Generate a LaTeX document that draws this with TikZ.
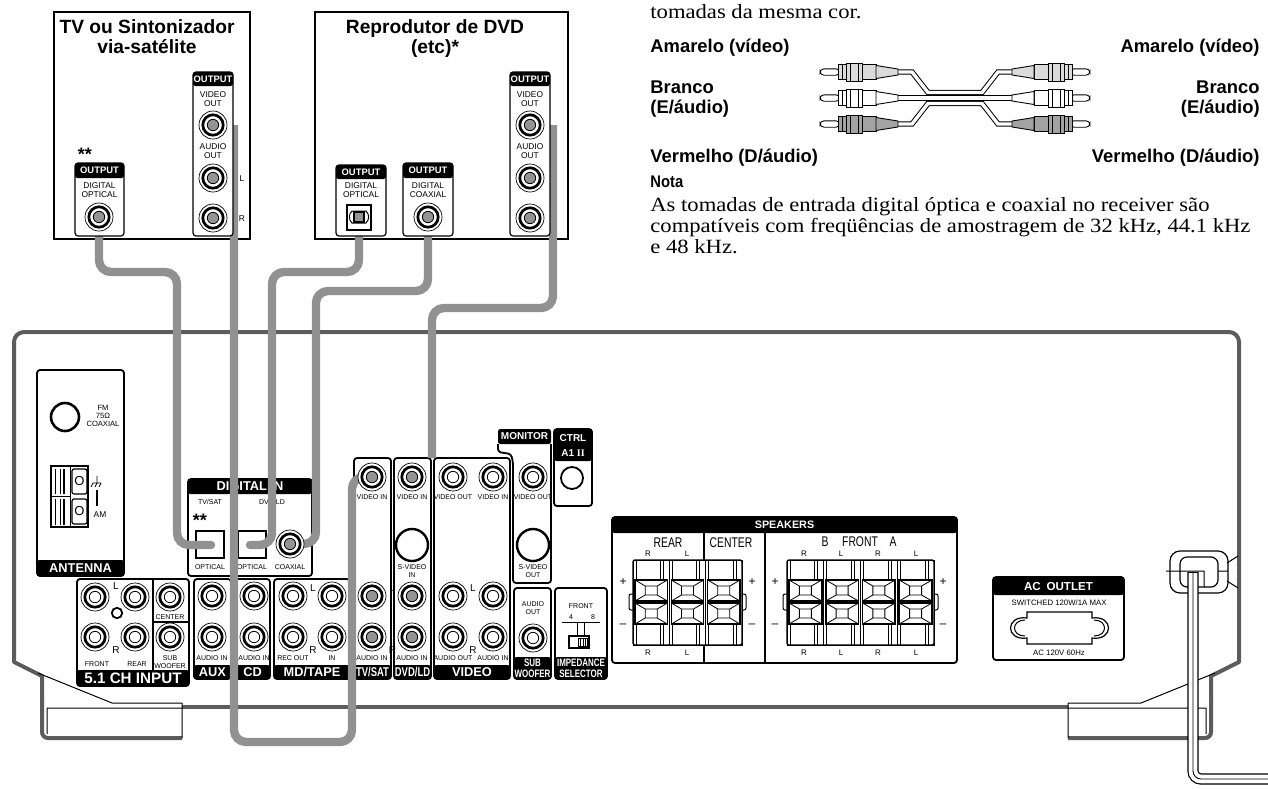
\documentclass[tikz,border=0pt]{standalone}
\usepackage{fontspec}
\setmainfont{Liberation Serif}
\setsansfont{Liberation Sans}
\newfontfamily\hdf{Liberation Sans}
\newfontfamily\cnd[FakeStretch=0.88]{Liberation Sans}
\newfontfamily\cndx[FakeStretch=0.74]{Liberation Sans}
\newfontfamily\wserif[FakeStretch=1.12]{Liberation Serif}
\definecolor{cablegray}{gray}{0.57}
\definecolor{bodygray}{gray}{0.36}
\definecolor{jackgray}{gray}{0.58}
\definecolor{plugA}{gray}{0.86}
\definecolor{plugC}{gray}{0.64}

\newcommand\rcajack[3]{%
  \coordinate (#1) at (#2);
  \draw[line width=0.35pt,fill=white] (#1) circle[radius=7pt];
  \draw[line width=1.35pt] (#1) circle[radius=5.1pt];
  \draw[line width=0.4pt,fill=#3] (#1) circle[radius=2.85pt];}

\newcommand\lbar[7][]{%
  \fill[rounded corners=1.2pt] (#3,#4) rectangle (#5,#6);
  \node[lbl,#1] (#2) at ({(#3+#5)/2},{(#4+#6)/2}) {#7};}

\newcommand\spksq[4]{%
  \pgfmathsetmacro\sqA{#1+#3/2-6}\pgfmathsetmacro\sqB{#2+#4/2-4.5}%
  \pgfmathsetmacro\sqC{#1+#3/2+6}\pgfmathsetmacro\sqD{#2+#4/2+4.5}%
  \pgfmathsetmacro\sqE{#1+#3}\pgfmathsetmacro\sqF{#2+#4}%
  \draw[line width=0.8pt] (#1,#2) rectangle (\sqE,\sqF);
  \draw[line width=0.4pt] (\sqA,\sqB) rectangle (\sqC,\sqD)
    (#1,#2) -- (\sqA,\sqB) (\sqE,#2) -- (\sqC,\sqB)
    (\sqE,\sqF) -- (\sqC,\sqD) (#1,\sqF) -- (\sqA,\sqD);}

\newcommand\spkcol[2]{%
  \pgfmathsetmacro\spR{#1+#2}\pgfmathsetmacro\spL{#1+#2-9}%
  \pgfmathsetmacro\spM{#1+#2-6}\pgfmathsetmacro\spK{#1+3}%
  \pgfmathsetmacro\spX{#1+2}\pgfmathsetmacro\spW{#2-4}%
  \draw[line width=0.5pt,fill=white] (#1,560) rectangle (\spR,645);
  \draw[line width=0.35pt] (\spK,560)--(\spK,579) (\spL,560)--(\spL,579) (\spM,560)--(\spM,579)
     (\spK,625)--(\spK,645) (\spL,625)--(\spL,645) (\spM,625)--(\spM,645);
  \spksq{\spX}{580}{\spW}{21}\spksq{\spX}{603}{\spW}{21}}

\newcommand\plugL[2]{%
  \draw[line width=0.45pt,fill=white,rounded corners=2pt] (820,#1-3.2) rectangle (840,#1+3.2);
  \draw[line width=0.45pt,fill=#2] (838,#1-7.5) rectangle (876,#1+7.5);
  \draw[line width=0.45pt,fill=#2] (846,#1-9) rectangle (862,#1+9);
  \draw[line width=0.35pt] (850,#1-9) -- (850,#1+9) (858,#1-9) -- (858,#1+9) (842,#1-7.5) -- (842,#1+7.5);
  \draw[line width=0.45pt,fill=#2] (876,#1-6.5) -- (898,#1-3) -- (898,#1+3) -- (876,#1+6.5) -- cycle;}

\begin{document}
\begin{tikzpicture}[x=0.5pt,y=-0.5pt,
  pnl/.style={draw,line width=0.9pt,fill=white,rounded corners=1.5pt},
  dpnl/.style={draw,line width=0.6pt,fill=white,rounded corners=1.5pt},
  body/.style={draw=bodygray,line width=2pt,line join=round},
  cable/.style={draw=cablegray,line width=4.2pt,rounded corners=6pt,line cap=round},
  lbl/.style={text=white,inner sep=0pt,align=center,font=\hdf\bfseries\fontsize{6.4}{6.6}\selectfont},
  lblx/.style={font=\cndx\bfseries\fontsize{6.4}{6.4}\selectfont},
  lbl2/.style={font=\cndx\bfseries\fontsize{5.4}{5.4}\selectfont},
  olbl/.style={text=white,inner sep=0pt,font=\hdf\bfseries\fontsize{4.7}{4.7}\selectfont},
  tinyt/.style={inner sep=0pt,align=center,font=\hdf\fontsize{3.5}{3.9}\selectfont},
  lrt/.style={inner sep=0pt,font=\hdf\fontsize{5}{5}\selectfont},
  dtxt/.style={inner sep=0pt,align=center,font=\hdf\fontsize{4.2}{4.3}\selectfont},
  spt/.style={inner sep=0pt,font=\cndx\fontsize{7}{7}\selectfont},
  pmt/.style={inner sep=0pt,font=\hdf\fontsize{6}{6}\selectfont},
  ttl/.style={inner sep=0pt,font=\hdf\bfseries\fontsize{9.6}{10}\selectfont},
  capl/.style={inner sep=0pt,font=\hdf\bfseries\fontsize{9.2}{9.4}\selectfont},
  bodyt/.style={inner sep=0pt,anchor=base west,font=\wserif\fontsize{10.1}{11}\selectfont},
  stars/.style={inner sep=0pt,anchor=base,font=\hdf\bfseries\fontsize{9}{9}\selectfont}]
\useasboundingbox (0,0) rectangle (1268,788);

% ---------- named end points ----------
\coordinate (tvo) at (99,217);  \coordinate (tvv) at (213,125);
\coordinate (dvo) at (359,217); \coordinate (dvc) at (428,217); \coordinate (dvv) at (530,125);
\coordinate (rxo1) at (211,545); \coordinate (rxo2) at (250,545); \coordinate (rxc) at (290,544);
\coordinate (satv) at (372,477); \coordinate (c5end) at (432,458);

% ---------- right text ----------
\node[bodyt] (tcor) at (650,18) {tomadas da mesma cor.};
\node[capl,anchor=base west] (amL) at (650,52) {Amarelo (vídeo)};
\node[capl,anchor=base east] (amR) at (1260,52) {Amarelo (vídeo)};
\node[capl,anchor=base west] (brL1) at (650,93) {Branco};
\node[capl,anchor=base west] (brL2) at (650,113) {(E/áudio)};
\node[capl,anchor=base east] (brR1) at (1260,93) {Branco};
\node[capl,anchor=base east] (brR2) at (1260,113) {(E/áudio)};
\node[capl,anchor=base west] (veL) at (650,162) {Vermelho (D/áudio)};
\node[capl,anchor=base east] (veR) at (1260,162) {Vermelho (D/áudio)};
\node[inner sep=0pt,anchor=base west,font=\cnd\bfseries\fontsize{8.4}{9}\selectfont] (nota) at (650,187) {Nota};
\node[bodyt] (n1) at (650,211) {As tomadas de entrada digital óptica e coaxial no receiver são};
\node[bodyt] (n2) at (650,232) {compatíveis com freqüências de amostragem de 32 kHz, 44.1 kHz};
\node[bodyt] (n3) at (650,253) {e 48 kHz.};

% cable pictogram
\foreach \yy/\ym in {72/92.5,124/103.5}{
  \draw[line width=0.5pt,double=white,double distance=1.7pt] (896,\yy) -- (912,\yy) -- (928,\ym) -- (982,\ym) -- (998,\yy) -- (1014,\yy);}
\draw[line width=0.5pt,double=white,double distance=1.7pt] (896,98) -- (1014,98);
\plugL{72}{plugA}\plugL{98}{white}\plugL{124}{plugC}
\begin{scope}[shift={(1910,0)},xscale=-1]
\plugL{72}{plugA}\plugL{98}{white}\plugL{124}{plugC}
\end{scope}

% ---------- receiver body ----------
\draw[body] (42,703) -- (42,676) -- (14,662) [rounded corners=5pt] -- (14,332) -- (1239,332) [sharp corners] -- (1239,662) -- (1211,676) -- (1211,703);
\draw[body,rounded corners=3pt] (42,700) -- (42,738) -- (182,738);
\draw[body,rounded corners=3pt] (1211,700) -- (1211,738) -- (1068,738);
\draw[body] (182,707) -- (1068,707);
\draw[line width=0.5pt] (38,673) -- (112,703) -- (182,703) (47,708) -- (182,708) (47,708) -- (47,734) (182,703) -- (182,738);
\draw[line width=0.5pt] (1215,673) -- (1141,703) -- (1068,703) (1206,708) -- (1068,708) (1206,708) -- (1206,734) (1068,703) -- (1068,738);

% antenna
\draw[pnl] (37,370) rectangle (124,576);
\lbar{antl}{37}{560}{124}{576}{ANTENNA}
\draw[line width=1.3pt] (65,417) circle[radius=7pt];
\node[tinyt,font=\hdf\fontsize{3.8}{4}\selectfont] (fmt) at (103,416) {FM\\75Ω\\COAXIAL};
\draw[line width=0.6pt] (51,466) rectangle (88,527);
\draw[line width=0.5pt] (51,496.5) -- (70,496.5) (70,466) -- (70,527);
\draw[line width=0.4pt] (55,469) -- (55,494) (60,469) -- (60,494) (55,499) -- (55,525) (60,499) -- (60,525);
\draw[line width=1.2pt] (64,469) -- (64,494) (64,499) -- (64,525);
\draw[line width=0.6pt,rounded corners=1pt] (72,469) rectangle (87,494) (72,499) rectangle (87,524);
\node[lrt,font=\hdf\fontsize{6.5}{6.5}\selectfont] (amo1) at (79.5,481.5) {O};
\node[lrt,font=\hdf\fontsize{6.5}{6.5}\selectfont] (amo2) at (79.5,511.5) {O};
\draw[line width=0.4pt] (97,476) -- (97,483) (93,483) -- (101,483) (93,483) -- (91,487) (97,483) -- (95,487) (101,483) -- (99,487);
\draw[line width=0.8pt] (97,490) -- (97,506);
\node[tinyt,font=\hdf\fontsize{4.2}{4.2}\selectfont] (amt) at (100,515) {AM};

% digital in
\draw[pnl] (188,479) rectangle (312,576);
\lbar{dinl}{188}{479}{312}{494}{DIGITAL IN}
\draw[line width=0.8pt] (232,494) -- (232,576);
\node[tinyt] (dts) at (210,502) {TV/SAT};
\node[tinyt] (ddl) at (272,502) {DVD/LD};
\node[stars] (dst) at (200,526) {**};
\draw[line width=1.1pt,fill=white] (196,531) rectangle (224,558);
\draw[line width=1.1pt,fill=white] (238,531) rectangle (266,558);
\node[tinyt] (op1) at (210,567) {OPTICAL};
\node[tinyt] (op2) at (252,567) {OPTICAL};
\node[tinyt] (cx1) at (290,567) {COAXIAL};

% 5.1 ch input
\draw[pnl] (77,579) rectangle (189,686);
\lbar[font=\hdf\bfseries\fontsize{7.6}{7.6}\selectfont]{l51}{77}{670}{189}{686}{5.1 CH INPUT}
\draw[line width=0.8pt] (153,579) -- (153,670) (153,622) -- (189,622);
\draw[line width=0.9pt] (117,613) circle[radius=2.6pt];
\node[lrt] (l51l) at (116,586) {L};
\node[lrt] (l51r) at (116,650) {R};
\node[tinyt] (t51a) at (97,664) {FRONT};
\node[tinyt] (t51b) at (137,664) {REAR};
\node[tinyt] (t51c) at (170,617) {CENTER};
\node[tinyt] (t51d) at (170,662) {SUB\\WOOFER};

% aux, cd, md/tape
\draw[pnl] (194,579) rectangle (231,679); \lbar{laux}{194}{665}{231}{679}{AUX}
\draw[pnl] (235,579) rectangle (270,679); \lbar{lcd}{235}{665}{270}{679}{CD}
\draw[pnl] (274,579) rectangle (350,679); \lbar{lmd}{274}{665}{350}{679}{MD/TAPE}
\node[tinyt] at (212,658) {AUDIO IN};
\node[tinyt] at (254,658) {AUDIO IN};
\node[tinyt] at (293,658) {REC OUT};
\node[tinyt] at (332,658) {IN};
\node[lrt] at (233,588) {L}; \node[lrt] at (233,650) {R};
\node[lrt] at (313,588) {L}; \node[lrt] at (313,650) {R};

% tv/sat, dvd/ld, video
\draw[pnl] (354,458) rectangle (391,679); \lbar[lblx]{ltv}{354}{665}{391}{679}{TV/SAT}
\draw[pnl] (394,458) rectangle (431,679); \lbar[lblx]{ldvd}{394}{665}{431}{679}{DVD/LD}
\draw[pnl] (434,458) rectangle (510,679); \lbar{lvid}{434}{665}{510}{679}{VIDEO}
\node[tinyt] at (372,497) {VIDEO IN};
\node[tinyt] at (412,497) {VIDEO IN};
\node[tinyt] at (453,497) {VIDEO OUT};
\node[tinyt] at (493,497) {VIDEO IN};
\draw[line width=1.2pt] (412,545) circle[radius=8pt];
\node[tinyt] at (412,571) {S-VIDEO\\IN};
\node[tinyt] at (372,658) {AUDIO IN};
\node[tinyt] at (412,658) {AUDIO IN};
\node[tinyt] at (453,658) {AUDIO OUT};
\node[tinyt] at (493,658) {AUDIO IN};
\node[lrt] at (392.5,588) {L}; \node[lrt] at (392.5,650) {R};
\node[lrt] at (473,588) {L}; \node[lrt] at (473,650) {R};

% monitor
\lbar[font=\hdf\bfseries\fontsize{5}{5}\selectfont]{lmon}{498}{429}{551}{444}{MONITOR}
\draw[line width=0.9pt,rounded corners=1.5pt] (498,444) -- (498,452) -- (511,454) -- (513,462) -- (513,583) -- (551,583) -- (551,444);
\node[tinyt] at (533,497) {VIDEO OUT};
\draw[line width=1.2pt] (533,545) circle[radius=8pt];
\node[tinyt] at (533,571) {S-VIDEO\\OUT};

% ctrl
\draw[pnl] (554,429) rectangle (592,506);
\fill[rounded corners=1.2pt] (554,429) rectangle (592,461);
\node[lbl,font=\hdf\bfseries\fontsize{5}{5}\selectfont] (ctl1) at (573,438) {CTRL};
\node[lbl,font=\hdf\bfseries\fontsize{5}{5}\selectfont] (ctl2) at (573,453) {A1 {\rmfamily II}};
\draw[line width=0.9pt] (572,478) circle[radius=5.5pt];

% sub woofer
\draw[pnl] (514,588) rectangle (551,679);
\lbar[lbl2]{lsub}{514}{657}{551}{679}{SUB\\WOOFER}
\node[tinyt] at (533,608) {AUDIO\\OUT};

% impedance selector
\draw[pnl] (555,588) rectangle (607,679);
\lbar[lbl2]{limp}{555}{657}{607}{679}{IMPEDANCE\\SELECTOR}
\node[tinyt] at (581,606) {FRONT};
\node[tinyt] at (571,617) {4};
\node[tinyt] at (593,617) {8};
\draw[line width=0.5pt] (562,622) -- (600,622) (577,622) -- (577,636) (584,622) -- (584,636);
\draw[line width=1pt,fill=white] (569,636) rectangle (589,648);
\draw[line width=0.4pt] (578,638) rectangle (587,646) (580.5,638) -- (580.5,646) (583,638) -- (583,646) (585.5,638) -- (585.5,646);

% speakers
\draw[pnl] (612,517) rectangle (957,663);
\lbar[font=\hdf\bfseries\fontsize{5.4}{5.4}\selectfont]{lspk}{612}{517}{957}{533}{SPEAKERS}
\draw[line width=0.8pt] (704,533) -- (704,663) (765,533) -- (765,663);
\node[spt] at (668,543) {REAR};
\node[spt] at (731,543) {CENTER};
\node[spt] at (825,542) {B};
\node[spt] at (860,542) {FRONT};
\node[spt] at (893,542) {A};
\foreach \xx/\tt in {648/R,687/L,804/R,841/L,878/R,916/L}{
  \node[tinyt,font=\hdf\fontsize{4}{4}\selectfont] at (\xx,554) {\tt};
  \node[tinyt,font=\hdf\fontsize{4}{4}\selectfont] at (\xx,653) {\tt};}
\foreach \xx in {623,752,775,943}{
  \node[pmt] at (\xx,582) {+};
  \node[pmt] at (\xx,626) {–};}
\draw[line width=0.5pt,fill=white,rounded corners=1pt] (629,594) rectangle (636,610) (739,594) rectangle (746,610)
  (783,594) rectangle (790,610) (931,594) rectangle (938,610);
\foreach \xx in {633,669.33,705.67}{\spkcol{\xx}{36.33}}
\foreach \xx in {787,823.75,860.5,897.25}{\spkcol{\xx}{36.75}}
\draw[line width=0.7pt,rounded corners=1pt] (633,560) rectangle (742,645) (787,560) rectangle (934,645);

% ac outlet
\draw[pnl] (993,577) rectangle (1124,660);
\lbar[font=\hdf\bfseries\fontsize{5.8}{5.8}\selectfont]{lac}{993}{577}{1124}{595}{AC\enspace OUTLET}
\node[tinyt,font=\hdf\fontsize{3.9}{3.9}\selectfont] at (1059,603) {SWITCHED 120W/1A MAX};
\node[tinyt,font=\hdf\fontsize{3.9}{3.9}\selectfont] at (1059,653) {AC 120V 60Hz};
\draw[line width=0.6pt] (1027,612) -- (1092,612) -- (1092,618) .. controls (1114,615) and (1114,641) .. (1092,638) -- (1092,644) -- (1027,644) -- (1027,638) .. controls (1005,641) and (1005,615) .. (1027,618) -- cycle;
\draw[line width=0.5pt] (1025,620) .. controls (1011,620) and (1011,636) .. (1025,636) (1094,620) .. controls (1108,620) and (1108,636) .. (1094,636);

% power cord clamp
\draw[line width=0.6pt,fill=white,rounded corners=5pt] (1170,551) rectangle (1228,593);
\draw[line width=0.6pt,rounded corners=3.5pt] (1180,557) rectangle (1218,587);
\draw[line width=0.5pt] (1166,571) -- (1204,571) -- (1204,587) (1218,571) -- (1228,571)
  (1227,563) -- (1238,556) (1227,581) -- (1238,588);

% ---------- device boxes ----------
\draw[line width=0.6pt] (54,12) rectangle (250,239);
\node[ttl,anchor=base] (tvt1) at (147,33) {TV ou Sintonizador};
\node[ttl,anchor=base] (tvt2) at (147,53) {via-satélite};
\draw[line width=0.6pt] (315,12) rectangle (568,239);
\node[ttl,anchor=base] (dvt1) at (435,33) {Reprodutor de DVD};
\node[ttl,anchor=base] (dvt2) at (435,53) {(etc)*};

% ---------- cables ----------
\draw[cable] (tvo) -- (99,272) -- (177,272) -- (177,545) -- (rxo1);
\draw[cable,line cap=butt] ([xshift=10.5pt]tvv) -- (234,742) -- (352,742) -- (352,477) -- (satv);
\draw[cable] (dvo) -- (359,272) -- (272,272) -- (272,545) -- (rxo2);
\draw[cable] (dvc) -- (428,291) -- (316,291) -- (316,544) -- (rxc);
\draw[cable,line cap=butt] ([xshift=11.5pt]dvv) -- (553,308) -- (432,308) -- (c5end);

% ---------- device panels ----------
\draw[dpnl] (193,72) rectangle (233,236);
\lbar[olbl]{otv1}{193}{72}{233}{86}{OUTPUT}
\node[dtxt] at (213,99) {VIDEO\\OUT};
\rcajack{tvv}{213,125}{jackgray}
\node[dtxt] at (213,151) {AUDIO\\OUT};
\rcajack{tvl}{213,178}{jackgray}
\rcajack{tvr}{213,218}{jackgray}
\node[dtxt] at (242,179) {L};
\node[dtxt] at (242,219) {R};

\draw[dpnl] (75,163) rectangle (124,236);
\lbar[olbl]{otv2}{75}{163}{124}{178}{OUTPUT}
\node[dtxt] at (99.5,190) {DIGITAL\\OPTICAL};
\rcajack{tvo}{99,217}{jackgray}
\node[stars] (tvst) at (85,160) {**};

\draw[dpnl] (336,165) rectangle (386,236);
\lbar[olbl]{odv1}{336}{165}{386}{179}{OUTPUT}
\node[dtxt] at (361,190) {DIGITAL\\OPTICAL};
\draw[line width=0.6pt,fill=white] (347,205) rectangle (371,230);
\draw[line width=0.5pt,fill=white] (352,211) .. controls (348.5,214) and (348.5,220) .. (352,223) -- (366,223) .. controls (369.5,220) and (369.5,214) .. (366,211) -- cycle;
\draw[line width=0.6pt,fill=jackgray] (354,212) rectangle (364,222);

\draw[dpnl] (403,163) rectangle (453,236);
\lbar[olbl]{odv2}{403}{163}{453}{178}{OUTPUT}
\node[dtxt] at (428,190) {DIGITAL\\COAXIAL};
\rcajack{dvc}{428,217}{jackgray}

\draw[dpnl] (510,72) rectangle (550,236);
\lbar[olbl]{odv3}{510}{72}{550}{86}{OUTPUT}
\node[dtxt] at (530,99) {VIDEO\\OUT};
\rcajack{dvv}{530,125}{jackgray}
\node[dtxt] at (530,151) {AUDIO\\OUT};
\rcajack{dvl}{530,178}{jackgray}
\rcajack{dvr}{530,218}{jackgray}

% ---------- receiver jacks ----------
\rcajack{j51a}{95,597}{white}\rcajack{j51b}{135,597}{white}
\rcajack{j51c}{95,637}{white}\rcajack{j51d}{135,637}{white}
\rcajack{j51e}{170,597}{white}\rcajack{j51f}{170,637}{white}
\rcajack{jaux1}{212,596}{white}\rcajack{jaux2}{212,637}{white}
\rcajack{jcd1}{254,596}{white}\rcajack{jcd2}{254,637}{white}
\rcajack{jmd1}{293,596}{white}\rcajack{jmd2}{332,596}{white}
\rcajack{jmd3}{293,637}{white}\rcajack{jmd4}{332,637}{white}
\rcajack{satv}{372,477}{jackgray}\rcajack{sat1}{372,596}{jackgray}\rcajack{sat2}{372,637}{jackgray}
\rcajack{dld0}{412,477}{jackgray}\rcajack{dld1}{412,596}{jackgray}\rcajack{dld2}{412,637}{jackgray}
\rcajack{vid1}{453,477}{white}\rcajack{vid2}{493,477}{white}
\rcajack{vid3}{453,596}{white}\rcajack{vid4}{493,596}{white}
\rcajack{vid5}{453,637}{white}\rcajack{vid6}{493,637}{white}
\rcajack{mon1}{533,477}{white}
\rcajack{subj}{533,638}{white}
\rcajack{rxc}{290,544}{jackgray}

% ---------- power cord ----------
\coordinate (cordtop) at (1193,572);
\coordinate (cordend) at (1268,779);
\draw[line width=5.6pt,rounded corners=4pt] (cordtop) |- (cordend);
\draw[white,line width=4.4pt,rounded corners=4pt] ([yshift=-0.6pt]cordtop) |- (cordend);
\draw[line width=0.45pt,rounded corners=4pt] (cordtop) |- (cordend);
\end{tikzpicture}
\end{document}
